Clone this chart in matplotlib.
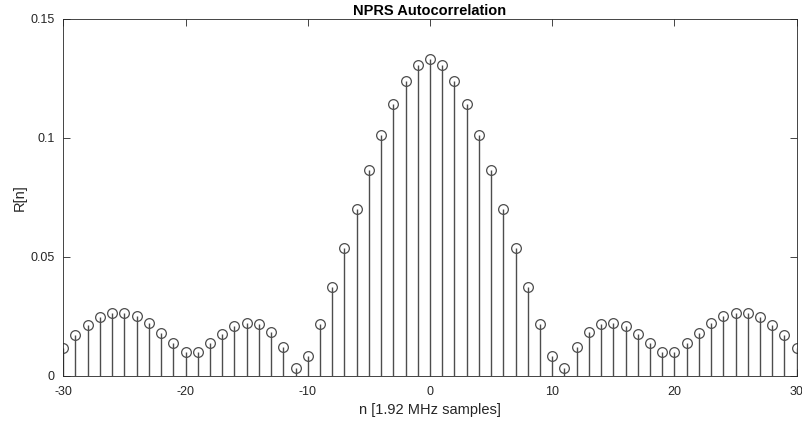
import numpy as np
import matplotlib.pyplot as plt

plt.rcParams['font.family'] = ['Liberation Sans', 'DejaVu Sans']
plt.rcParams['axes.unicode_minus'] = False

# lag index and autocorrelation values (symmetric about 0)
lags = np.arange(-30, 31)
half = [0.0116, 0.0171, 0.0214, 0.0246, 0.0263, 0.0266, 0.0252, 0.0221, 0.0182, 0.0137,
        0.0102, 0.0102, 0.0137, 0.0178, 0.0210, 0.0224, 0.0217, 0.0183, 0.0122, 0.0034,
        0.0083, 0.0220, 0.0374, 0.0537, 0.0702, 0.0865, 0.1013, 0.1140, 0.1238, 0.1306]
peak = [0.1333]
R = half + peak + half[::-1]

xticks = [-30, -20, -10, 0, 10, 20, 30]
yticks = [0, 0.05, 0.1, 0.15]
yticklabels = ['0', '0.05', '0.1', '0.15']

fig = plt.figure(figsize=(8.03, 4.26), dpi=100)
ax = fig.add_axes([0.0788, 0.1174, 0.9133, 0.8386])

col = '#4d4d4d'
markers, stems, base = ax.stem(lags, R, basefmt=' ')
plt.setp(stems, color=col, linewidth=1.0)
plt.setp(markers, color=col, markerfacecolor='none', markersize=7, markeredgewidth=0.9)

ax.set_xlim(-30, 30)
ax.set_ylim(0, 0.15)
ax.set_xticks(xticks)
ax.set_yticks(yticks)
ax.set_yticklabels(yticklabels)
ax.tick_params(direction='in', top=True, right=True, length=5, labelsize=9,
               colors='#262626', width=0.6)
ax.tick_params(axis='x', pad=7)
ax.tick_params(axis='y', pad=6)
for s in ax.spines.values():
    s.set_color('#262626')
    s.set_linewidth(0.6)

ax.set_title('NPRS Autocorrelation', fontsize=10.5, fontweight='bold', pad=3)
ax.set_xlabel('n [1.92 MHz samples]', fontsize=10.5, color='#262626', labelpad=4)
ax.set_ylabel('R[n]', fontsize=10.5, color='#262626', labelpad=3)

fig.savefig('out.png', dpi=100)
